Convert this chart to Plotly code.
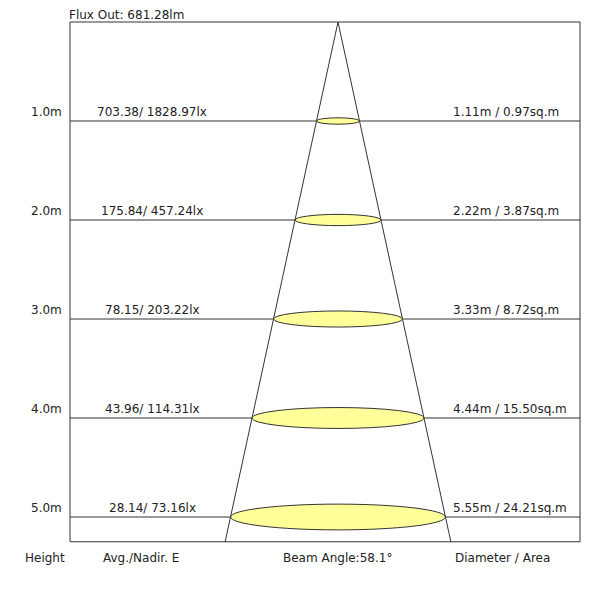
import plotly.graph_objects as go
import math

heights = [1.0, 2.0, 3.0, 4.0, 5.0]
height_labels = ["1.0m", "2.0m", "3.0m", "4.0m", "5.0m"]
illum_labels = ["703.38/ 1828.97lx", "175.84/ 457.24lx", "78.15/ 203.22lx", "43.96/ 114.31lx", "28.14/ 73.16lx"]
diameters = [1.11, 2.22, 3.33, 4.44, 5.55]
diam_labels = ["1.11m / 0.97sq.m", "2.22m / 3.87sq.m", "3.33m / 8.72sq.m", "4.44m / 15.50sq.m", "5.55m / 24.21sq.m"]
beam_angle = 58.1
flux = "Flux Out: 681.28lm"
bottom_labels = ["Height", "Avg./Nadir. E", "Beam Angle:58.1°", "Diameter / Area"]

XS = 38.7  # px per m horizontally
YS = 99.0  # px per m vertically
def px_x(p): return (p - 338) / XS
def px_y(p): return (p - 22) / YS

box_l, box_r, box_b = px_x(70), px_x(580), 5.25
fig = go.Figure()
fig.add_trace(go.Scatter(x=[box_l, box_r], y=[0, box_b], mode="markers", marker_opacity=0, showlegend=False, hoverinfo="skip"))
line = dict(color="#333333", width=1)
fig.add_shape(type="rect", x0=box_l, x1=box_r, y0=0, y1=box_b, line=line)
hw = math.tan(math.radians(beam_angle / 2)) * box_b
fig.add_shape(type="line", x0=0, y0=0, x1=-hw, y1=box_b, line=line)
fig.add_shape(type="line", x0=0, y0=0, x1=hw, y1=box_b, line=line)
font = dict(family="DejaVu Sans", size=12, color="#222222")
for h, hl, il, d, dl in zip(heights, height_labels, illum_labels, diameters, diam_labels):
    fig.add_shape(type="line", x0=box_l, x1=box_r, y0=h, y1=h, line=line)
    e = 0.022 * d + 0.008
    fig.add_shape(type="circle", x0=-d / 2, x1=d / 2, y0=h - e, y1=h + e,
                  fillcolor="#ffff99", line=dict(color="#333333", width=1))
    fig.add_annotation(x=px_x(64), y=h, text=hl, showarrow=False, xanchor="right", yanchor="bottom", font=font)
    fig.add_annotation(x=px_x(152), y=h, text=il, showarrow=False, xanchor="center", yanchor="bottom", font=font)
    fig.add_annotation(x=px_x(451), y=h, text=dl, showarrow=False, xanchor="left", yanchor="bottom", font=font)
fig.add_annotation(x=px_x(67), y=px_y(15), text=flux, showarrow=False, xanchor="left", yanchor="middle", font=font)
for xp, t in zip([23, 101, 281, 453], bottom_labels):
    fig.add_annotation(x=px_x(xp), y=px_y(558), text=t, showarrow=False, xanchor="left", yanchor="middle", font=font)
fig.update_layout(width=600, height=600, margin=dict(l=0, r=0, t=0, b=0),
                  plot_bgcolor="white", paper_bgcolor="white", showlegend=False)
fig.update_xaxes(range=[px_x(8), px_x(608)], visible=False)
fig.update_yaxes(range=[px_y(608), px_y(8)], visible=False)
fig.write_html("out.html")
